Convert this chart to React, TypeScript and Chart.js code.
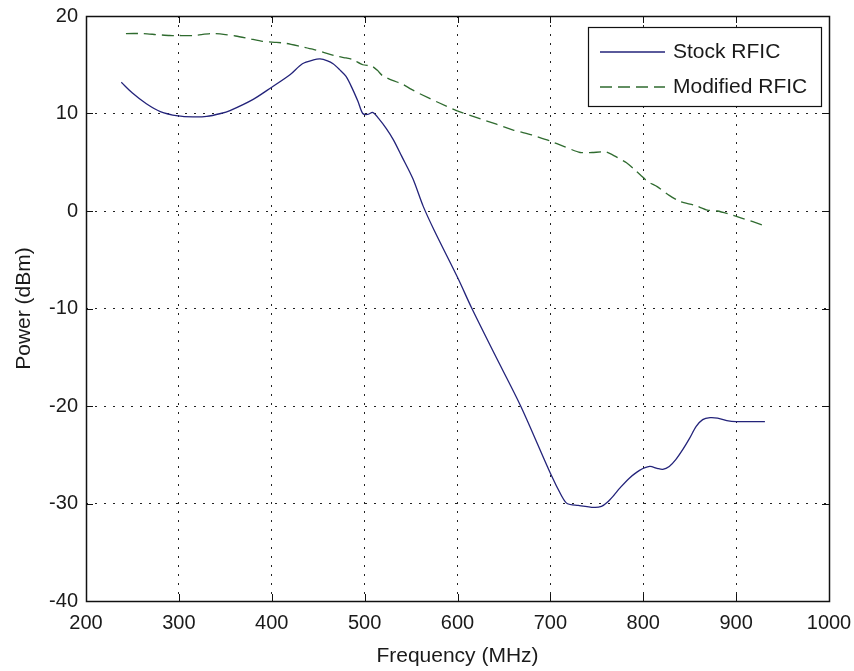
import React, { useEffect, useRef } from 'react';
import { Chart, registerables } from 'chart.js';

Chart.register(...registerables);

const seriesNames = ['Stock RFIC', 'Modified RFIC'];
const xTitle = 'Frequency (MHz)';
const yTitle = 'Power (dBm)';

const stockFreq = [238, 250, 265, 280, 299, 315, 330, 345, 355, 380, 400, 420, 433, 445, 452, 460, 466, 473, 480, 487, 493, 498, 503, 509, 515, 523, 531, 540, 552, 563, 575, 601, 615, 640, 668, 700, 712, 718, 730, 747, 755, 761, 768, 775, 785, 796, 807, 815, 821, 828, 835, 843, 850, 857, 864, 872, 880, 890, 900, 931];
const stockPower = [13.2, 12.1, 11.0, 10.2, 9.75, 9.65, 9.7, 10.0, 10.3, 11.45, 12.7, 14.0, 15.1, 15.5, 15.6, 15.4, 15.1, 14.5, 13.8, 12.5, 11.2, 10.0, 9.9, 10.1, 9.5, 8.5, 7.3, 5.6, 3.3, 0.5, -2.0, -7.0, -9.9, -14.7, -20.0, -26.9, -29.2, -30.0, -30.2, -30.4, -30.3, -29.9, -29.2, -28.4, -27.4, -26.6, -26.2, -26.4, -26.5, -26.2, -25.5, -24.4, -23.3, -22.1, -21.4, -21.2, -21.25, -21.5, -21.6, -21.6];

const modFreq = [243, 260, 275, 290, 299, 315, 336, 350, 361, 375, 390, 405, 415, 430, 444, 455, 469, 480, 487, 498, 508, 514, 519, 530, 541, 550, 560, 580, 599, 620, 642, 660, 680, 699, 715, 732, 745, 760, 770, 782, 790, 797, 805, 815, 828, 840, 855, 869, 880, 894, 905, 918, 930];
const modPower = [18.2, 18.2, 18.1, 18.0, 18.0, 18.0, 18.2, 18.1, 17.95, 17.7, 17.4, 17.3, 17.2, 16.9, 16.6, 16.3, 15.9, 15.7, 15.55, 15.0, 14.85, 14.4, 13.9, 13.4, 13.0, 12.5, 12.0, 11.1, 10.3, 9.6, 8.9, 8.3, 7.8, 7.2, 6.6, 6.0, 6.0, 6.05, 5.6, 4.95, 4.3, 3.7, 3.0, 2.5, 1.6, 0.95, 0.6, 0.1, 0.0, -0.35, -0.7, -1.1, -1.5];

const xMin = 200, xMax = 1000, xStep = 100;
const yMin = -40, yMax = 20, yStep = 10;

const FONT = '"Liberation Sans", Arial, sans-serif';
const TEXT = '#1a1a1a';
const STOCK_COLOR = '#23237a';
const MOD_COLOR = '#2f6b2f';

const boxPlugin = {
  id: 'matlabBox',
  afterDatasetsDraw(chart: any) {
    const { ctx, chartArea: a, scales } = chart;
    const tl = 7;
    ctx.save();
    ctx.strokeStyle = '#111';
    ctx.lineWidth = 1;
    ctx.beginPath();
    scales.x.ticks.forEach((t: any) => {
      const px = Math.round(scales.x.getPixelForValue(t.value)) + 0.5;
      ctx.moveTo(px, a.bottom); ctx.lineTo(px, a.bottom - tl);
      ctx.moveTo(px, a.top); ctx.lineTo(px, a.top + tl);
    });
    scales.y.ticks.forEach((t: any) => {
      const py = Math.round(scales.y.getPixelForValue(t.value)) + 0.5;
      ctx.moveTo(a.left, py); ctx.lineTo(a.left + tl, py);
      ctx.moveTo(a.right, py); ctx.lineTo(a.right - tl, py);
    });
    ctx.stroke();
    ctx.lineWidth = 1.5;
    ctx.strokeRect(Math.round(a.left) + 0.5, Math.round(a.top) + 0.5, Math.round(a.right - a.left), Math.round(a.bottom - a.top));
    ctx.restore();
  },
};

const legendPlugin = {
  id: 'insideLegend',
  afterDraw(chart: any) {
    const { ctx, chartArea: a } = chart;
    const x0 = a.right - 241, y0 = a.top + 11, w = 233, h = 79;
    ctx.save();
    ctx.fillStyle = '#fff';
    ctx.fillRect(x0, y0, w, h);
    ctx.strokeStyle = '#111';
    ctx.lineWidth = 1.2;
    ctx.strokeRect(x0 + 0.5, y0 + 0.5, w, h);
    ctx.font = `21px ${FONT}`;
    ctx.textBaseline = 'middle';
    ctx.fillStyle = TEXT;
    chart.data.datasets.forEach((ds: any, i: number) => {
      const yy = y0 + 25 + i * 35;
      ctx.save();
      ctx.strokeStyle = ds.borderColor;
      ctx.lineWidth = ds.borderWidth;
      ctx.setLineDash(ds.borderDash || []);
      ctx.beginPath();
      ctx.moveTo(x0 + 12, yy);
      ctx.lineTo(x0 + 77, yy);
      ctx.stroke();
      ctx.restore();
      ctx.fillText(ds.label, x0 + 85, yy);
    });
    ctx.restore();
  },
};

export default function App() {
  const ref = useRef<HTMLCanvasElement>(null);
  useEffect(() => {
    if (!ref.current) return;
    const stockPts = stockFreq.map((f, i) => ({ x: f, y: stockPower[i] }));
    const modPts = modFreq.map((f, i) => ({ x: f, y: modPower[i] }));
    const chart = new Chart(ref.current, {
      type: 'line',
      data: {
        datasets: [
          { label: seriesNames[0], data: stockPts, borderColor: STOCK_COLOR, borderWidth: 1.3, pointRadius: 0, tension: 0.3, fill: false },
          { label: seriesNames[1], data: modPts, borderColor: MOD_COLOR, borderWidth: 1.3, borderDash: [12, 6], pointRadius: 0, tension: 0.2, fill: false },
        ],
      },
      options: {
        animation: false,
        responsive: false,
        maintainAspectRatio: false,
        layout: { padding: { left: 0, top: 16, right: 25, bottom: 0 } },
        plugins: { legend: { display: false }, tooltip: { enabled: false } },
        scales: {
          x: {
            type: 'linear',
            min: xMin, max: xMax,
            ticks: { stepSize: xStep, padding: 10, color: TEXT, font: { family: FONT, size: 20 }, maxRotation: 0, autoSkip: false, callback: (v: any) => String(v) },
            grid: { color: '#222', lineWidth: 1, drawTicks: false },
            border: { display: false, dash: [2, 7] },
            title: { display: true, text: xTitle, color: TEXT, font: { family: FONT, size: 21 }, padding: { top: 0, bottom: 2 } },
            afterFit: (s: any) => { s.height = 70; s.paddingLeft = 0; s.paddingRight = 0; },
          },
          y: {
            type: 'linear',
            min: yMin, max: yMax,
            ticks: { stepSize: yStep, padding: 8, color: TEXT, font: { family: FONT, size: 20 }, callback: (v: any) => String(v) },
            grid: { color: '#222', lineWidth: 1, drawTicks: false },
            border: { display: false, dash: [2, 7] },
            title: { display: true, text: yTitle, color: TEXT, font: { family: FONT, size: 21 }, padding: { top: 12, bottom: 0 } },
            afterFit: (s: any) => { s.width = 86; s.paddingTop = 0; s.paddingBottom = 0; },
          },
        },
      },
      plugins: [boxPlugin, legendPlugin],
    });
    return () => chart.destroy();
  }, []);
  return (
    <div style={{ position: 'absolute', left: 0, top: 0, width: 854, height: 671, background: '#fff' }}>
      <canvas ref={ref} width={854} height={671} style={{ display: 'block' }} />
    </div>
  );
}
